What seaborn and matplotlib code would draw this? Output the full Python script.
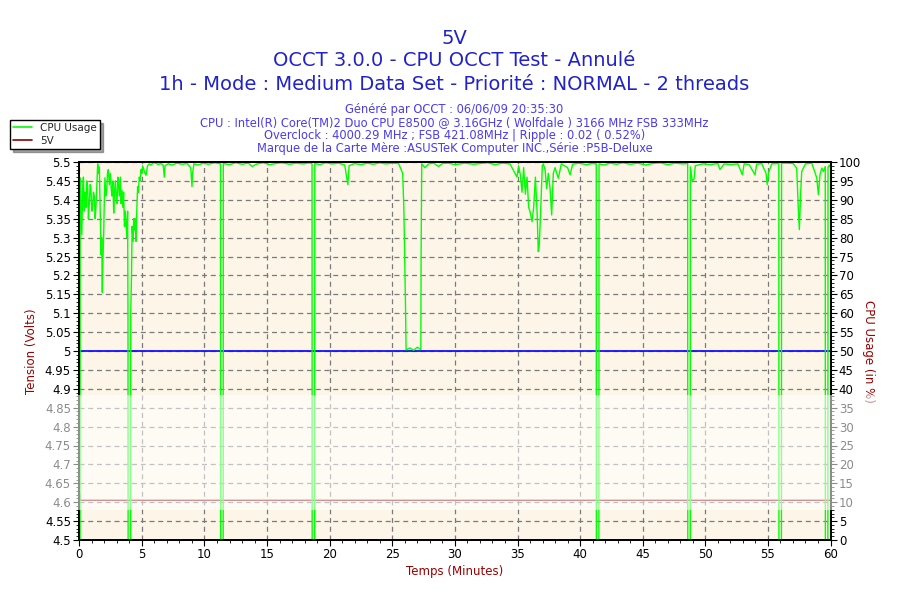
import matplotlib
matplotlib.use('Agg')
import matplotlib.pyplot as plt
import seaborn as sns
from matplotlib.lines import Line2D
from matplotlib.patches import Rectangle
from matplotlib.ticker import MultipleLocator, FuncFormatter

# CPU usage (%), time in minutes
cpu_time = [
    0.00, 0.06, 0.07, 0.13, 0.20, 0.27, 0.33, 0.40, 0.47, 0.54, 0.60, 0.67, 0.73, 0.80, 0.87, 0.93,
    1.00, 1.07, 1.13, 1.20, 1.27, 1.33, 1.40, 1.47, 1.53, 1.60, 1.68, 1.74, 1.79, 1.84, 1.87, 1.95,
    2.00, 2.05, 2.12, 2.19, 2.25, 2.32, 2.40, 2.48, 2.55, 2.61, 2.68, 2.75, 2.81, 2.88, 2.95, 3.01,
    3.08, 3.14, 3.21, 3.28, 3.34, 3.41, 3.48, 3.54, 3.61, 3.67, 3.73, 3.80, 3.86, 3.89, 3.90, 4.10,
    4.11, 4.17, 4.22, 4.30, 4.35, 4.40, 4.47, 4.53, 4.60, 4.66, 4.72, 4.79, 4.86, 4.93, 5.00, 5.06,
    5.15, 5.25, 5.33, 5.45, 5.59, 5.75, 5.90, 6.13, 6.30, 6.50, 6.70, 6.79, 6.85, 7.10, 7.40, 7.80,
    8.20, 8.60, 8.90, 9.00, 9.05, 9.15, 9.50, 9.90, 10.30, 10.80, 11.28, 11.29, 11.49, 11.50, 12.00,
    12.50, 13.00, 13.50, 13.80, 14.20, 14.70, 15.20, 15.70, 16.20, 16.80, 17.30, 17.90, 18.40, 18.59,
    18.60, 18.80, 18.81, 19.20, 19.70, 20.20, 20.70, 21.20, 21.45, 21.55, 22.00, 22.50, 23.00, 23.50,
    24.00, 24.50, 25.00, 25.50, 25.83, 25.92, 26.05, 26.10, 26.40, 26.70, 27.00, 27.28, 27.30, 27.35,
    27.60, 27.90, 28.30, 28.70, 29.00, 29.50, 30.00, 30.80, 31.50, 32.00, 32.60, 33.20, 33.80, 34.40,
    34.96, 35.09, 35.23, 35.36, 35.49, 35.63, 35.76, 35.89, 36.00, 36.16, 36.29, 36.43, 36.56, 36.66,
    36.74, 36.85, 36.98, 37.06, 37.20, 37.33, 37.46, 37.60, 37.73, 37.86, 38.00, 38.26, 38.50, 39.00,
    39.20, 39.40, 39.90, 40.50, 41.00, 41.29, 41.30, 41.50, 41.51, 41.90, 42.40, 42.90, 43.40, 44.00,
    44.60, 45.20, 45.80, 46.40, 47.00, 47.60, 48.20, 48.59, 48.60, 48.80, 48.81, 48.95, 49.10, 49.20,
    49.80, 50.40, 51.00, 51.17, 51.50, 52.00, 52.60, 52.96, 53.10, 53.50, 53.97, 54.10, 54.50, 54.85,
    54.95, 55.05, 55.30, 55.87, 55.88, 56.08, 56.09, 56.50, 57.00, 57.30, 57.43, 57.51, 57.62, 57.70,
    58.00, 58.50, 58.90, 59.03, 59.16, 59.30, 59.43, 59.58, 59.59, 59.79, 59.80, 59.90, 60.00,
]
cpu_usage = [
    0, 0, 95.8, 88, 80.8, 93, 96, 87, 92, 88, 95, 93.5, 85, 89, 94, 93,
    87, 88, 92, 91, 85, 88, 94, 99.5, 97, 98.7, 85, 75.5, 80, 65.5, 72, 81,
    90, 95.8, 91, 92.5, 97, 98, 94, 97, 93, 91, 95, 86.5, 92, 95, 90, 89,
    96, 93.5, 91, 96, 89, 92.5, 88, 92, 83, 87, 83.5, 80, 87, 59, 0, 0,
    60, 70, 83, 79, 85, 82, 85, 79, 88, 93.5, 92, 96, 95, 98, 97, 99,
    98, 97, 96.5, 99, 99.5, 99.2, 99.8, 99.7, 99.3, 99.6, 99.2, 96, 99, 99.5, 99.2, 99.7,
    99.4, 99.6, 98.5, 93.5, 97, 99.5, 99.2, 99.7, 99.4, 99.8, 99.5, 0, 0, 99.6, 99.3,
    99.8, 99.4, 99.7, 98.8, 99.5, 99.8, 99.3, 99.6, 99.8, 99.4, 99.7, 99.5, 99.8, 99.5,
    0, 0, 99.6, 99.3, 99.8, 99.5, 99.7, 99.2, 94, 99, 99.6, 99.3, 99.7, 99.4,
    99.8, 99.5, 99.7, 99.6, 97, 88, 63, 50.3, 50.8, 50.2, 51, 50.4, 75.4, 99.5,
    98.5, 99.5, 99.7, 98.8, 99.6, 99.7, 99.3, 99.7, 99.4, 99.6, 99.8, 99.3, 99.7, 99.5,
    96, 99, 96.5, 92, 98.5, 91.5, 96, 88, 86.9, 84.2, 88, 96, 87, 76.3,
    78, 87, 99, 99.5, 98, 93, 97, 93, 86, 97, 98.5, 95.7, 99.5, 98.5,
    96.6, 99.4, 99.7, 99.3, 99.6, 99.5, 0, 0, 99.5, 99.2, 99.7, 99.4, 99.8, 99.4,
    99.7, 99.2, 99.6, 99.8, 99.3, 99.7, 99.5, 99.6, 0, 0, 98.7, 95, 95.5, 99,
    99.5, 99.3, 99.6, 98, 99.5, 99.3, 99.5, 96.6, 99.5, 99.3, 96.6, 99.4, 99.6, 97,
    94, 97.1, 99.5, 99.6, 0, 0, 99.7, 99.7, 99.6, 98.4, 87.4, 82.1, 92.2, 97.5,
    99.5, 99.7, 95.8, 91.4, 96.6, 98.4, 97.5, 98.8, 0, 0, 98.5, 99.2, 98.5,
]

# 5V readings (volts)
volt_time = [0.0, 0.1, 60.0]
volt_reading = [4.628, 4.605, 4.605]
volt_nominal = [5.0, 5.0, 5.0]

title_lines = [
    '5V',
    'OCCT 3.0.0 - CPU OCCT Test - Annulé',
    '1h - Mode : Medium Data Set - Priorité : NORMAL - 2 threads',
]
info_lines = [
    'Généré par OCCT : 06/06/09 20:35:30',
    'CPU : Intel(R) Core(TM)2 Duo CPU E8500 @ 3.16GHz ( Wolfdale ) 3166 MHz FSB 333MHz',
    'Overclock : 4000.29 MHz ; FSB 421.08MHz | Ripple : 0.02 ( 0.52%)',
    'Marque de la Carte Mère :ASUSTeK Computer INC.,Série :P5B-Deluxe',
]

sns.set_theme(style='white')
plt.rcParams['font.family'] = ['DejaVu Sans']

fig = plt.figure(figsize=(9, 6), dpi=100)
fig.patch.set_facecolor('white')
ax = fig.add_axes([0.0881, 0.1, 0.8347, 0.63])
ax.set_facecolor('#fdf6e8')
ax2 = ax.twinx()

sns.lineplot(x=volt_time, y=volt_nominal, ax=ax, color='#1010ff', lw=1.3, legend=False)
sns.lineplot(x=volt_time, y=volt_reading, ax=ax, color='#9b1010', lw=1.0, legend=False)
sns.lineplot(x=cpu_time, y=cpu_usage, ax=ax2, color='#00ff00', lw=1.0,
             estimator=None, sort=False, legend=False)

ax.set_xlim(0, 60)
ax.set_ylim(4.5, 5.5)
ax2.set_ylim(0, 100)
ax.xaxis.set_major_locator(MultipleLocator(5))
ax.xaxis.set_minor_locator(MultipleLocator(1))
ax.yaxis.set_major_locator(MultipleLocator(0.05))
ax.yaxis.set_minor_locator(MultipleLocator(0.01))
ax.yaxis.set_major_formatter(FuncFormatter(lambda v, p: f'{round(v, 2):g}'))
ax2.yaxis.set_major_locator(MultipleLocator(5))
ax2.yaxis.set_minor_locator(MultipleLocator(1))

ax.grid(True, which='major', ls=(0, (4, 3)), color='#7a7a7a', lw=0.9)
ax2.grid(False)
for a in (ax, ax2):
    for s in a.spines.values():
        s.set_color('black')
        s.set_linewidth(1.3)
    a.tick_params(which='major', direction='out', length=4, width=0.8, colors='black', labelsize=8.5, pad=2)
    a.tick_params(which='minor', direction='out', length=2, width=0.6, colors='black')
ax.tick_params(axis='x', which='both', bottom=True)
ax.tick_params(axis='y', which='both', left=True)
ax2.tick_params(axis='y', which='both', right=True)

ax.set_xlabel('Temps (Minutes)', color='#990000', fontsize=8.5, labelpad=3)
ax.set_ylabel('Tension (Volts)', color='#990000', fontsize=8.5, labelpad=5)
ax2.set_ylabel('CPU Usage (in %)', color='#990000', fontsize=8.5, rotation=270, labelpad=10)

tc = '#2222cc'
for i, t in enumerate(title_lines):
    fig.text(0.505, 1 - (38 + 23 * i) / 600, t, ha='center', va='center', fontsize=14, color=tc)
ic = '#4a3cee'
for i, t in enumerate(info_lines):
    fig.text(0.505, 1 - (110 + 12.7 * i) / 600, t, ha='center', va='center', fontsize=8.3, color=ic)

handles = [Line2D([], [], color='#00ff00', lw=1.2), Line2D([], [], color='#8b0000', lw=1.2)]
leg = fig.legend(handles, ['CPU Usage', '5V'], loc='upper left', bbox_to_anchor=(0.011, 0.80),
                 frameon=True, fancybox=False, shadow=True, edgecolor='black', framealpha=1,
                 fontsize=7.5, handlelength=1.8, borderpad=0.3, labelspacing=0.25, borderaxespad=0)
leg.get_frame().set_linewidth(1.0)

# faded band left by the image-host watermark
fig.patches.append(Rectangle((0, 1 - 510 / 600), 1, 115 / 600, transform=fig.transFigure,
                             facecolor='white', edgecolor='none', alpha=0.55, zorder=10))

fig.savefig('out.png', dpi=100)
